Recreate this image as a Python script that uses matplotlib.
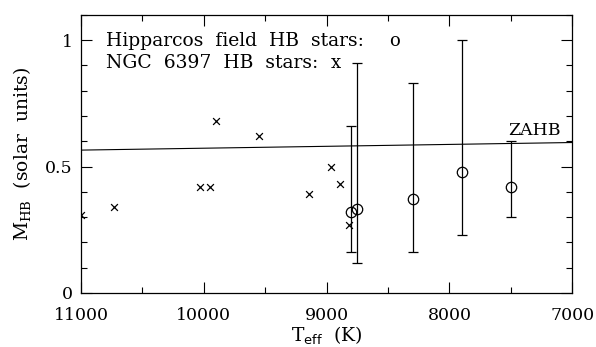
import matplotlib
matplotlib.use("Agg")
from matplotlib import pyplot as plt
from matplotlib.ticker import MultipleLocator

# NGC 6397 HB stars (crosses)
ngc_teff = [11000, 10730, 10030, 9950, 9900, 9550, 9140, 8965, 8890, 8820]
ngc_mass = [0.31, 0.34, 0.42, 0.42, 0.68, 0.62, 0.39, 0.50, 0.43, 0.27]

# Hipparcos field HB stars (circles with asymmetric error bars)
hip_teff = [8800, 8750, 8300, 7900, 7500]
hip_mass = [0.32, 0.33, 0.37, 0.48, 0.42]
hip_upper = [0.66, 0.91, 0.83, 1.00, 0.60]
hip_lower = [0.16, 0.12, 0.16, 0.23, 0.30]

# ZAHB line end points
zahb_teff = [11000, 7000]
zahb_mass = [0.565, 0.595]

plt.rcParams['font.family'] = ['DejaVu Serif']
plt.rcParams['mathtext.fontset'] = 'dejavuserif'

fig = plt.figure(figsize=(5.96, 3.47), dpi=100)
ax = fig.add_axes([0.136, 0.156, 0.824, 0.801])

ax.plot(zahb_teff, zahb_mass, color='black', lw=0.8)
ax.text(7310, 0.608, "ZAHB", ha='center', va='bottom', fontsize=12.5)

ax.scatter(ngc_teff, ngc_mass, marker='x', color='black', s=24, lw=0.9, clip_on=True)

err_lo = [m - lo for m, lo in zip(hip_mass, hip_lower)]
err_hi = [hi - m for hi, m in zip(hip_upper, hip_mass)]
ax.errorbar(hip_teff, hip_mass, yerr=[err_lo, err_hi], fmt='o', mfc='none',
            mec='black', ms=7.5, mew=0.9, ecolor='black', elinewidth=0.9,
            capsize=3.6, capthick=1.3)

ax.text(10800, 0.996, "Hipparcos  field  HB  stars:", ha='left', va='center', fontsize=13.5)
ax.text(8450, 0.996, "o", ha='center', va='center', fontsize=13)
ax.text(10800, 0.909, "NGC  6397  HB  stars:", ha='left', va='center', fontsize=13.5)
ax.text(8925, 0.909, "x", ha='center', va='center', fontsize=13)

ax.set_xlim(11000, 7000)
ax.set_ylim(0, 1.1)
ax.xaxis.set_major_locator(MultipleLocator(1000))
ax.xaxis.set_minor_locator(MultipleLocator(500))
ax.yaxis.set_major_locator(MultipleLocator(0.5))
ax.yaxis.set_minor_locator(MultipleLocator(0.1))
ax.set_yticks([0, 0.5, 1])
ax.set_yticklabels(["0", "0.5", "1"])
ax.tick_params(which='both', direction='in', top=True, right=True, labelsize=12.5, width=0.8)
ax.tick_params(which='major', length=8)
ax.tick_params(which='minor', length=4.5)
ax.tick_params(axis='x', which='major', pad=10)
ax.tick_params(axis='y', which='major', pad=6)
for s in ax.spines.values():
    s.set_linewidth(0.9)

ax.set_xlabel(r"T$_{\mathsf{eff}}$  (K)", fontsize=13.5, labelpad=0)
ax.set_ylabel(r"M$_{\rm HB}$  (solar  units)", fontsize=13.5, labelpad=9)

fig.savefig("out.png", dpi=100)
